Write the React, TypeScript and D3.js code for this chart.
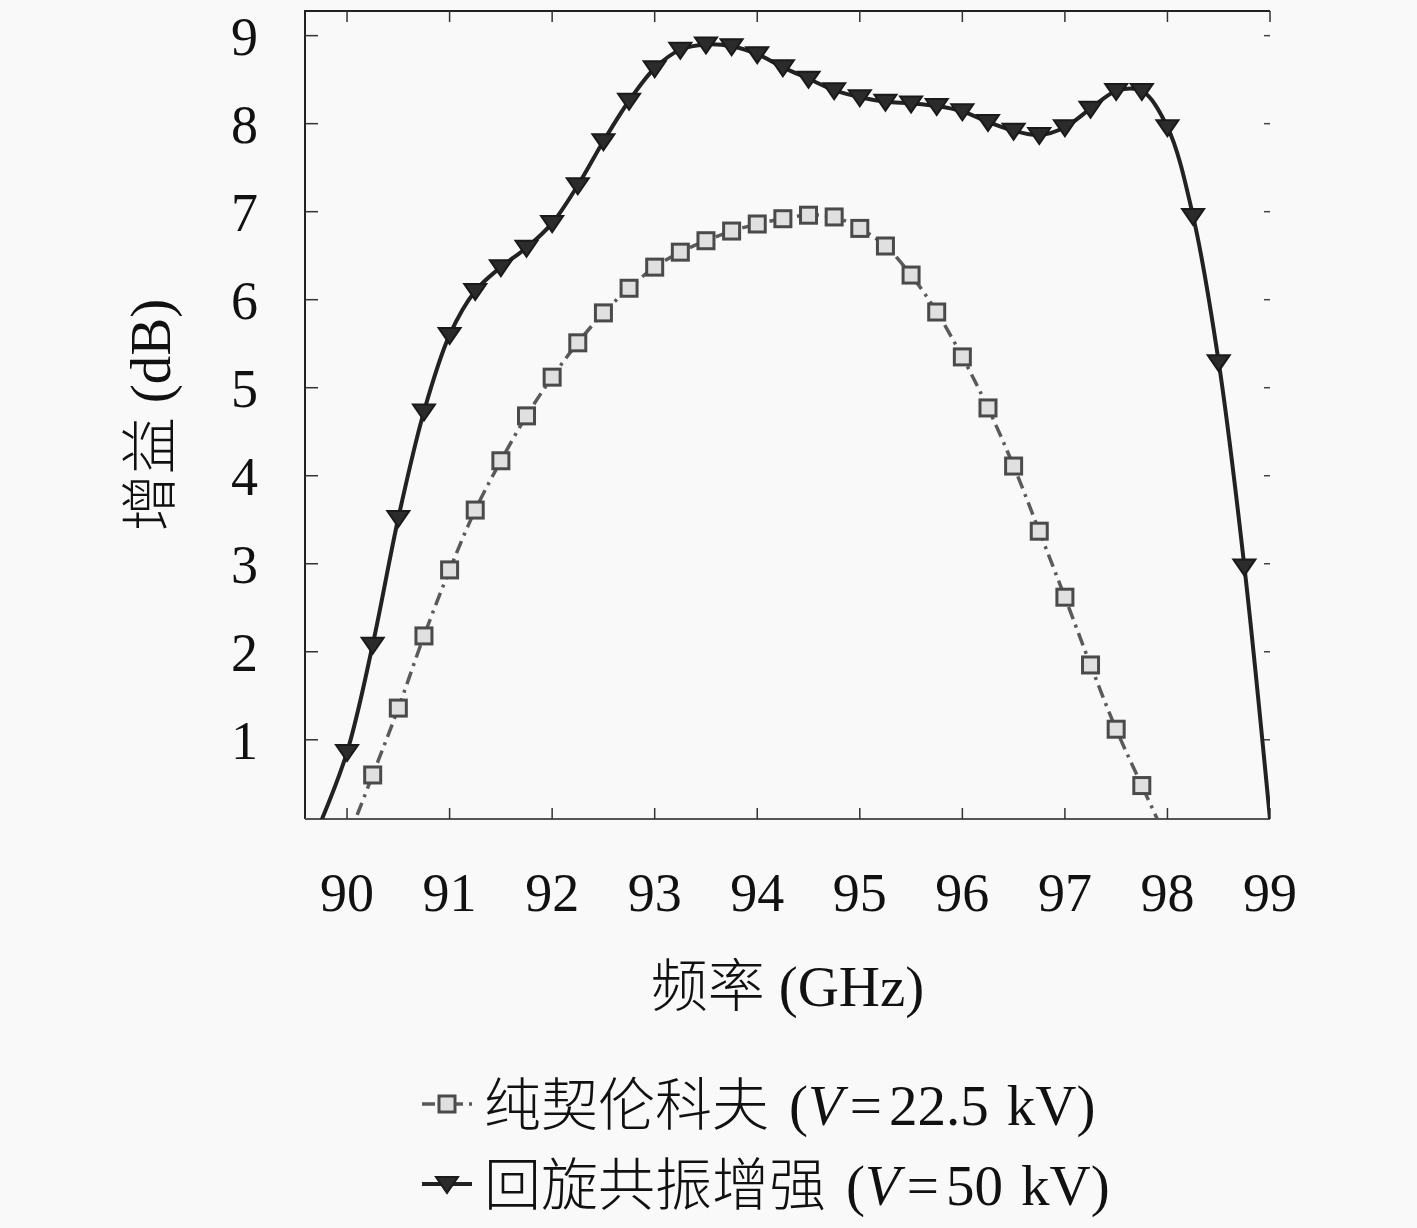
import { useEffect } from 'react';
import * as d3 from 'd3';

// 纯契伦科夫 (V = 22.5 kV)
const cherenkovFreq = [90.0, 90.25, 90.5, 90.75, 91, 91.25, 91.5, 91.75, 92, 92.25, 92.5, 92.75, 93, 93.25, 93.5, 93.75, 94, 94.25, 94.5, 94.75, 95, 95.25, 95.5, 95.75, 96, 96.25, 96.5, 96.75, 97, 97.25, 97.5, 97.75, 98.0];
const cherenkovGain = [-0.15, 0.6, 1.36, 2.18, 2.93, 3.61, 4.17, 4.68, 5.12, 5.51, 5.85, 6.13, 6.37, 6.54, 6.67, 6.78, 6.86, 6.92, 6.96, 6.94, 6.81, 6.61, 6.28, 5.86, 5.35, 4.77, 4.11, 3.37, 2.62, 1.85, 1.12, 0.48, -0.15];

// 回旋共振增强 (V = 50 kV)
const gyroFreq = [89.72, 90, 90.25, 90.5, 90.75, 91, 91.25, 91.5, 91.75, 92, 92.25, 92.5, 92.75, 93, 93.25, 93.5, 93.75, 94, 94.25, 94.5, 94.75, 95, 95.25, 95.5, 95.75, 96, 96.25, 96.5, 96.75, 97, 97.25, 97.5, 97.75, 98, 98.25, 98.5, 98.75, 99.0];
const gyroGain = [0.0, 0.86, 2.08, 3.52, 4.73, 5.6, 6.1, 6.37, 6.59, 6.87, 7.3, 7.8, 8.26, 8.63, 8.84, 8.9, 8.88, 8.79, 8.64, 8.51, 8.38, 8.3, 8.25, 8.23, 8.2, 8.14, 8.02, 7.92, 7.87, 7.96, 8.17, 8.37, 8.37, 7.96, 6.95, 5.29, 2.97, 0.1];

const xTicks = [90, 91, 92, 93, 94, 95, 96, 97, 98, 99];
const yTicks = [1, 2, 3, 4, 5, 6, 7, 8, 9];

const legendLabels = ['纯契伦科夫', '回旋共振增强'];
const legendVoltages = ['22.5', '50'];

const W = 1417;
const H = 1228;
const margin = { left: 305, right: 147, top: 11, bottom: 409 };
const numFont = '"Liberation Serif", "DejaVu Serif", serif';
const cjkFont = '"Noto Sans CJK SC", "Noto Sans CJK JP", sans-serif';

export default function App() {
  useEffect(() => {
    document.body.style.margin = '0';
    document.body.style.background = '#f9f9f9';
  }, []);

  const x = d3.scaleLinear().domain([89.59, 99]).range([margin.left, W - margin.right]);
  const y = d3.scaleLinear().domain([0.1, 9.28]).range([H - margin.bottom, margin.top]);
  const x0 = x.range()[0];
  const x1 = x.range()[1];
  const yb = y.range()[0];
  const yt = y.range()[1];

  const line = d3
    .line<[number, number]>()
    .x(d => x(d[0]))
    .y(d => y(d[1]))
    .curve(d3.curveCatmullRom.alpha(0.5));

  const cherenkov = cherenkovFreq.map((f, i) => [f, cherenkovGain[i]] as [number, number]);
  const gyro = gyroFreq.map((f, i) => [f, gyroGain[i]] as [number, number]);
  // the end points only close the curves; markers sit on the 0.25 GHz grid
  const cherenkovMarks = cherenkov.slice(1, -1);
  const gyroMarks = gyro.slice(1, -1);

  const tri = (cx: number, cy: number) =>
    `M${cx - 11},${cy - 7}L${cx + 11},${cy - 7}L${cx},${cy + 9}Z`;

  return (
    <svg width={W} height={H} style={{ position: 'absolute', left: 0, top: 0, background: '#f9f9f9' }}>
      <defs>
        <clipPath id="plot">
          <rect x={x0} y={yt} width={x1 - x0} height={yb - yt} />
        </clipPath>
      </defs>

      {/* frame: left, top, bottom */}
      <path d={`M${x0},${yb}L${x0},${yt}L${x1},${yt}`} fill="none" stroke="#222" strokeWidth={2} />
      <line x1={x0} x2={x1} y1={yb} y2={yb} stroke="#555" strokeWidth={2} />

      {xTicks.map(t => (
        <g key={'xt' + t}>
          <line x1={x(t)} x2={x(t)} y1={yb} y2={yb - 11} stroke="#333" strokeWidth={1.5} />
          <line x1={x(t)} x2={x(t)} y1={yt} y2={yt + 11} stroke="#333" strokeWidth={1.5} />
          <text x={x(t)} y={911} textAnchor="middle" fontFamily={numFont} fontSize={54} fill="#111">
            {t}
          </text>
        </g>
      ))}

      {yTicks.map(t => (
        <g key={'yt' + t}>
          <line x1={x0} x2={x0 + 13} y1={y(t)} y2={y(t)} stroke="#333" strokeWidth={1.5} />
          <line x1={x1 - 6} x2={x1} y1={y(t)} y2={y(t)} stroke="#444" strokeWidth={1.5} />
          <text x={258} y={y(t)} dy="0.35em" textAnchor="end" fontFamily={numFont} fontSize={54} fill="#111">
            {t}
          </text>
        </g>
      ))}

      <g clipPath="url(#plot)">
        <path
          d={line(cherenkov) || ''}
          fill="none"
          stroke="#5a5a5a"
          strokeWidth={3.5}
          strokeDasharray="13,6,3,6"
        />
        <path d={line(gyro) || ''} fill="none" stroke="#222" strokeWidth={4} />
      </g>

      {cherenkovMarks.map((d, i) => (
        <rect
          key={'c' + i}
          x={x(d[0]) - 8}
          y={y(d[1]) - 8}
          width={16}
          height={16}
          fill="#e0e0e0"
          stroke="#4a4a4a"
          strokeWidth={3}
        />
      ))}
      {gyroMarks.map((d, i) => (
        <path key={'g' + i} d={tri(x(d[0]), y(d[1]))} fill="#2b2b2b" stroke="#1a1a1a" strokeWidth={2} />
      ))}

      {/* axis titles */}
      <text
        transform={`translate(150,${(yb + yt) / 2}) rotate(-90)`}
        textAnchor="middle"
        dy="0.35em"
        fontSize={57}
        fill="#111"
      >
        <tspan fontFamily={cjkFont} fontWeight={300}>增益</tspan>
        <tspan fontFamily={numFont} dx={14}>(dB)</tspan>
      </text>
      <text x={(x0 + x1) / 2} y={1006} textAnchor="middle" fontSize={57} fill="#111">
        <tspan fontFamily={cjkFont} fontWeight={300}>频率</tspan>
        <tspan fontFamily={numFont} dx={14}>(GHz)</tspan>
      </text>

      {/* legend */}
      {legendLabels.map((lab, i) => {
        const ly = 1104 + i * 80;
        return (
          <g key={'lg' + i}>
            {i === 0 ? (
              <>
                <line x1={422} x2={472} y1={ly} y2={ly} stroke="#5a5a5a" strokeWidth={3.5} strokeDasharray="13,6,3,6" />
                <rect x={439} y={ly - 8} width={16} height={16} fill="#e0e0e0" stroke="#4a4a4a" strokeWidth={3} />
              </>
            ) : (
              <>
                <line x1={422} x2={472} y1={ly} y2={ly} stroke="#222" strokeWidth={4} />
                <path d={tri(447, ly)} fill="#2b2b2b" stroke="#1a1a1a" strokeWidth={2} />
              </>
            )}
            <text x={484} y={ly} dy="0.36em" fontSize={57} fill="#111">
              <tspan fontFamily={cjkFont} fontWeight={300}>{lab}</tspan>
              <tspan fontFamily={numFont} dx={20}>(</tspan>
              <tspan fontFamily={numFont} fontStyle="italic">V</tspan>
              <tspan fontFamily={numFont} dx={7}>=</tspan>
              <tspan fontFamily={numFont} dx={7}>{legendVoltages[i]}</tspan>
              <tspan fontFamily={numFont} dx={18}>kV)</tspan>
            </text>
          </g>
        );
      })}
    </svg>
  );
}
